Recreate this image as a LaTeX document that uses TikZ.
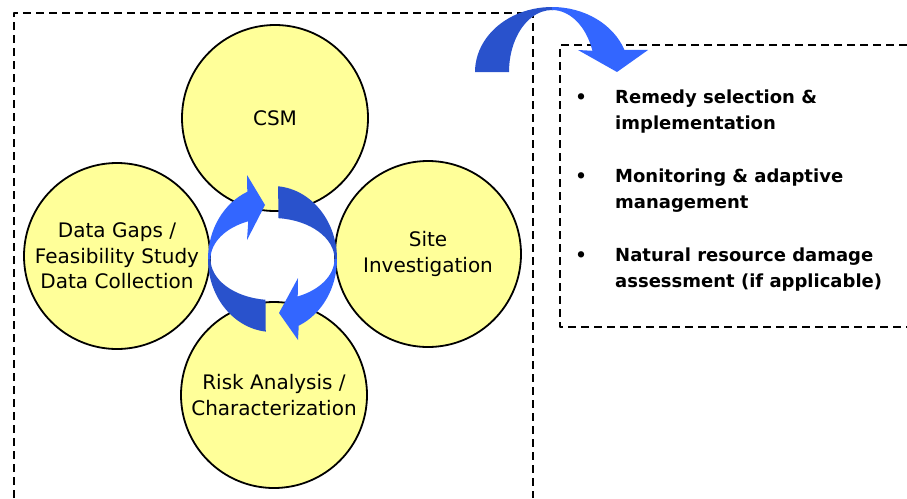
\documentclass[tikz,border=0pt]{standalone}
\usepackage{fontspec}
\setmainfont{DejaVu Sans}
\usetikzlibrary{calc}
\definecolor{stageyellow}{RGB}{255,255,153}
\definecolor{arrowblue}{RGB}{51,102,255}
\definecolor{arrowdark}{RGB}{41,82,204}
\begin{document}
\begin{tikzpicture}[x=1pt, y=-1pt, line join=round,
	stage/.style={circle, draw=black, line width=1.8pt, fill=stageyellow, minimum size=186pt, inner sep=0pt, align=center, font=\fontsize{20}{25.5}\selectfont},
	boxline/.style={line width=2.2pt, dash pattern=on 8pt off 5pt},
	item/.style={anchor=north west, inner sep=0pt, align=left, font=\fontsize{18}{26}\selectfont\bfseries},
	bulletmark/.style={anchor=base, inner sep=0pt, font=\fontsize{18}{26}\selectfont\bfseries}]
	\useasboundingbox (0,0) rectangle (907,498);
	% dashed frames
	\draw[boxline] (14,498) -- (14,13) -- (533,13) -- (533,498);
	\draw[boxline] (907,45) -- (560,45) -- (560,327) -- (907,327);
	% stages
	\node[stage] (csm) at (275,118) {CSM};
	\node[stage] (site) at (428,254) {Site\\Investigation};
	\node[stage] (gaps) at (117,256) {Data Gaps /\\Feasibility Study\\Data Collection};
	\node[stage] (risk) at (274,395) {Risk Analysis /\\Characterization};
	% cycle arrows
	\coordinate (ring) at (272.5,259);
	\coordinate (L1) at (247,175);
	\coordinate (L2) at (265,205);
	\coordinate (L3) at (247,240);
	\coordinate (R1) at (298,340);
	\coordinate (R2) at (279,313);
	\coordinate (R3) at (298,278);
	\fill[arrowdark] ($(ring)+(96:64.5 and 73)$) arc[start angle=96, end angle=181, x radius=64.5, y radius=73]
		-- ($(ring)+(181:62 and 41)$) arc[start angle=181, end angle=96.5, x radius=62, y radius=41] -- cycle;
	\fill[arrowblue] ($(ring)+(180:64.5 and 73)$) arc[start angle=180, end angle=247, x radius=64.5, y radius=73]
		-- (L1) -- (L2) -- (L3) -- ($(ring)+(247:62 and 41)$) arc[start angle=247, end angle=180, x radius=62, y radius=41] -- cycle;
	\fill[arrowdark] ($(ring)+(275:64.5 and 73)$) arc[start angle=275, end angle=361, x radius=64.5, y radius=73]
		-- ($(ring)+(361:62 and 41)$) arc[start angle=361, end angle=275.5, x radius=62, y radius=41] -- cycle;
	\fill[arrowblue] ($(ring)+(360:64.5 and 73)$) arc[start angle=360, end angle=426, x radius=64.5, y radius=73]
		-- (R1) -- (R2) -- (R3) -- ($(ring)+(426:62 and 41)$) arc[start angle=426, end angle=360, x radius=62, y radius=41] -- cycle;
	% arrow to next phase
	\coordinate (T) at (552,72);
	\coordinate (T1) at (648,50);
	\coordinate (T2) at (617,72);
	\coordinate (T3) at (578,50);
	\fill[arrowdark] ($(T)+(180:77 and 65)$) arc[start angle=180, end angle=271, x radius=77, y radius=65]
		-- ($(T)+(271:43 and 62)$) arc[start angle=271, end angle=180, x radius=43, y radius=62] -- cycle;
	\fill[arrowblue] ($(T)+(270:77 and 65)$) arc[start angle=270, end angle=340, x radius=77, y radius=65]
		-- (T1) -- (T2) -- (T3) -- ($(T)+(340:43 and 62)$) arc[start angle=340, end angle=270, x radius=43, y radius=62] -- cycle;
	% later steps
	\node[bulletmark] (b1) at (581,103) {•};
	\node[bulletmark] (b2) at (581,182) {•};
	\node[bulletmark] (b3) at (581,261) {•};
	\node[item] (i1) at (615,84.8) {\strut Remedy selection \&\\implementation};
	\node[item] (i2) at (615,163.8) {\strut Monitoring \& adaptive\\management};
	\node[item] (i3) at (615,242.8) {\strut Natural resource damage\\assessment (if applicable)};
\end{tikzpicture}
\end{document}
